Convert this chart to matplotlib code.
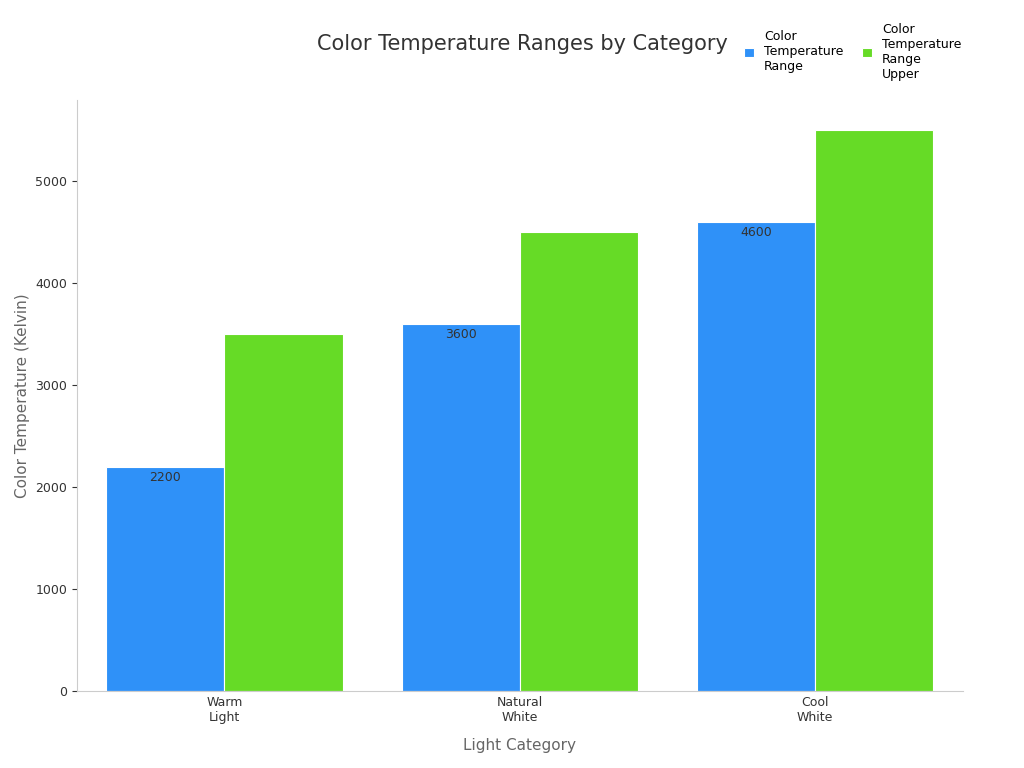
import matplotlib
matplotlib.use("Agg")
import matplotlib.pyplot as plt
import numpy as np

categories = ["Warm\nLight", "Natural\nWhite", "Cool\nWhite"]
lower = [2200, 3600, 4600]
upper = [3500, 4500, 5500]
series_names = ["Color\nTemperature\nRange", "Color\nTemperature\nRange\nUpper"]

fig = plt.figure(figsize=(10.24, 7.68), dpi=100)
ax = fig.add_axes([0.075, 0.1, 0.865, 0.77])
x = np.arange(len(categories))
w = 0.4
b1 = ax.bar(x - w / 2, lower, w, color="#2f91f8", edgecolor="white", linewidth=0.8, label=series_names[0])
b2 = ax.bar(x + w / 2, upper, w, color="#66db26", edgecolor="white", linewidth=0.8, label=series_names[1])
for xi, v in zip(x, lower):
    ax.text(xi - w / 2, v - 40, str(v), ha="center", va="top", fontsize=9, color="#333333")

ax.set_xticks(x)
ax.set_xticklabels(categories, fontsize=9, color="#333333")
ax.tick_params(axis="y", labelsize=9, colors="#333333")
ax.tick_params(axis="x", length=0)
ax.set_xlim(-0.5, 2.5)
ax.set_ylim(0, 5800)
ax.set_yticks([0, 1000, 2000, 3000, 4000, 5000])
for s in ["top", "right"]:
    ax.spines[s].set_visible(False)
for s in ["left", "bottom"]:
    ax.spines[s].set_color("#cccccc")
ax.set_xlabel("Light Category", fontsize=11, color="#666666", labelpad=10)
ax.set_ylabel("Color Temperature (Kelvin)", fontsize=11, color="#666666")
fig.text(0.51, 0.943, "Color Temperature Ranges by Category", ha="center", va="center", fontsize=15, color="#333333")
fig.legend(loc="upper right", bbox_to_anchor=(0.95, 0.985), ncol=2, frameon=False, fontsize=9,
           handlelength=0.8, handleheight=0.8, columnspacing=1.5)
fig.savefig("out.png")
